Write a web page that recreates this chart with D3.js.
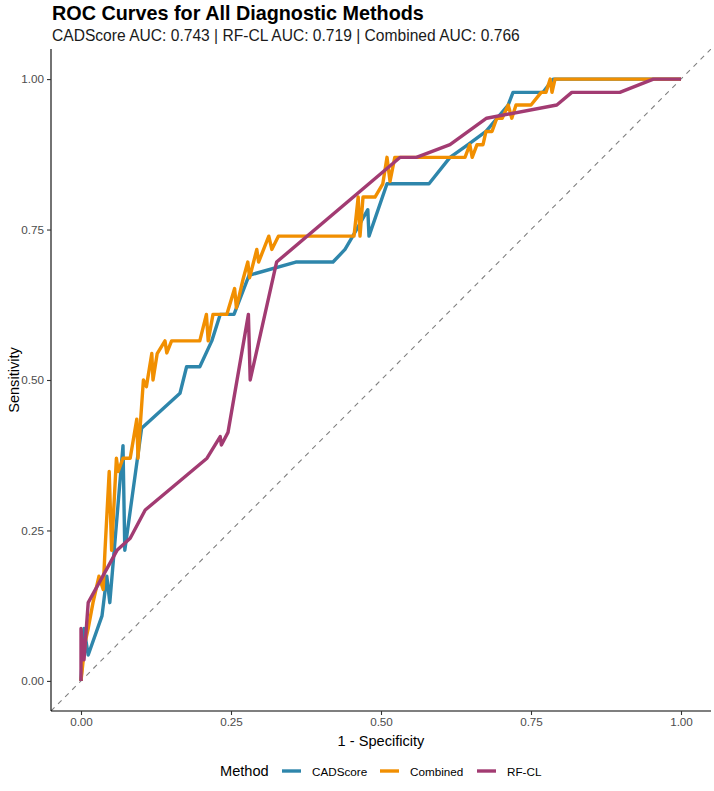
<!DOCTYPE html>
<html><head><meta charset="utf-8">
<script src="https://cdn.jsdelivr.net/npm/d3@7"></script>
<style>body{margin:0;background:#fff;} svg{display:block;font-family:"Liberation Sans",Arial,sans-serif;}</style>
</head><body>
<script>
const methods = ["CADScore", "Combined", "RF-CL"];
const colors = ["#2E86AB", "#F18F01", "#A23B72"];
const aucCAD = 0.743, aucRF = 0.719, aucComb = 0.766;
const ticks = [0, 0.25, 0.5, 0.75, 1];

const cadFPR = [0,0.005,0.012,0.035,0.043,0.048,0.070,0.073,0.101,0.165,0.176,0.198,0.218,0.232,0.255,0.280,0.358,0.420,0.440,0.453,0.478,0.480,0.510,0.580,0.615,0.645,0.675,0.712,0.720,0.770,0.787,1];
const cadTPR = [0,0.087,0.043,0.108,0.174,0.130,0.391,0.217,0.420,0.478,0.522,0.522,0.565,0.609,0.609,0.674,0.696,0.696,0.717,0.739,0.783,0.739,0.826,0.826,0.870,0.891,0.913,0.957,0.978,0.978,1,1];

const combFPR = [0,0.007,0.012,0.020,0.030,0.037,0.040,0.047,0.051,0.059,0.062,0.070,0.082,0.093,0.095,0.104,0.109,0.118,0.120,0.127,0.140,0.143,0.151,0.198,0.209,0.212,0.220,0.243,0.256,0.259,0.270,0.278,0.281,0.293,0.296,0.313,0.318,0.329,0.455,0.462,0.465,0.470,0.490,0.503,0.510,0.515,0.523,0.640,0.648,0.652,0.660,0.670,0.675,0.685,0.693,0.702,0.712,0.718,0.725,0.750,0.767,0.775,0.782,0.785,0.790,1];
const combTPR = [0,0.065,0.087,0.130,0.174,0.152,0.217,0.348,0.217,0.370,0.348,0.370,0.370,0.435,0.370,0.500,0.489,0.544,0.500,0.544,0.565,0.545,0.565,0.565,0.609,0.565,0.609,0.609,0.652,0.620,0.667,0.696,0.670,0.717,0.696,0.739,0.717,0.739,0.739,0.804,0.739,0.804,0.804,0.826,0.870,0.830,0.870,0.870,0.891,0.870,0.891,0.891,0.913,0.913,0.935,0.935,0.957,0.935,0.957,0.957,0.978,0.978,1,0.978,1,1];

const rfFPR = [0,0,0.005,0.012,0.060,0.082,0.107,0.210,0.232,0.234,0.245,0.279,0.282,0.326,0.532,0.559,0.615,0.676,0.793,0.818,0.898,0.954,1];
const rfTPR = [0,0.087,0.035,0.130,0.217,0.237,0.284,0.370,0.406,0.392,0.413,0.609,0.500,0.696,0.870,0.870,0.891,0.935,0.957,0.978,0.978,1,1];

const series = [
  {name:"CADScore", fpr:cadFPR, tpr:cadTPR},
  {name:"Combined", fpr:combFPR, tpr:combTPR},
  {name:"RF-CL", fpr:rfFPR, tpr:rfTPR}
];

const W = 714, H = 791;
const svg = d3.select("body").append("svg").attr("width", W).attr("height", H);
const x = d3.scaleLinear().domain([-0.05, 1.05]).range([51, 711]);
const y = d3.scaleLinear().domain([-0.05, 1.05]).range([711, 49]);
const color = d3.scaleOrdinal().domain(methods).range(colors);

// title
svg.append("text").attr("x", 52).attr("y", 20).attr("font-size", 19.8).attr("font-weight", "bold").attr("fill", "#000")
  .text("ROC Curves for All Diagnostic Methods");
svg.append("text").attr("x", 52).attr("y", 41).attr("font-size", 15.6).attr("fill", "#1a1a1a")
  .text(`CADScore AUC: ${aucCAD.toFixed(3)} | RF-CL AUC: ${aucRF.toFixed(3)} | Combined AUC: ${aucComb.toFixed(3)}`);

// clip
svg.append("clipPath").attr("id", "clip").append("rect").attr("x", 51).attr("y", 49).attr("width", 660).attr("height", 662);

const g = svg.append("g").attr("clip-path", "url(#clip)");
// diagonal reference
g.append("line").attr("x1", x(-0.05)).attr("y1", y(-0.05)).attr("x2", x(1.05)).attr("y2", y(1.05))
  .attr("stroke", "#808080").attr("stroke-width", 1.1).attr("stroke-dasharray", "5,5");

const line = d3.line().x(d => x(d[0])).y(d => y(d[1]));
series.forEach(s => {
  const pts = s.fpr.map((v, i) => [v, s.tpr[i]]);
  g.append("path").datum(pts).attr("d", line).attr("fill", "none")
    .attr("stroke", color(s.name)).attr("stroke-width", 3.4).attr("stroke-linejoin", "round").attr("stroke-linecap", "butt");
});

// axes
const fmt = d3.format(".2f");
const xAxis = svg.append("g").attr("transform", "translate(0,711)")
  .call(d3.axisBottom(x).tickValues(ticks).tickFormat(fmt).tickSizeOuter(0).tickSize(4).tickPadding(3));
const yAxis = svg.append("g").attr("transform", "translate(51,0)")
  .call(d3.axisLeft(y).tickValues(ticks).tickFormat(fmt).tickSizeOuter(0).tickSize(4).tickPadding(3));
[xAxis, yAxis].forEach(a => {
  a.select(".domain").attr("stroke", "#000").attr("stroke-width", 1.1);
  a.selectAll(".tick line").attr("stroke", "#333").attr("stroke-width", 1.1);
  a.selectAll(".tick text").attr("fill", "#4D4D4D").attr("font-size", 11.7).attr("font-family", "Liberation Sans, Arial, sans-serif");
});
xAxis.select(".domain").attr("d", `M${x(-0.05)},0H${x(1.05)}`);
yAxis.select(".domain").attr("d", `M0,${y(-0.05)}V${y(1.05)}`);

// axis titles
svg.append("text").attr("x", 381).attr("y", 746).attr("text-anchor", "middle").attr("font-size", 14.6).attr("fill", "#000").text("1 - Specificity");
svg.append("text").attr("transform", "translate(19,380) rotate(-90)").attr("text-anchor", "middle").attr("font-size", 14.6).attr("fill", "#000").text("Sensitivity");

// legend
const leg = svg.append("g");
const ly = 771;
leg.append("text").attr("x", 220).attr("y", ly + 5).attr("font-size", 14.6).attr("fill", "#000").text("Method");
const lx = [282, 380, 477];
methods.forEach((m, i) => {
  leg.append("line").attr("x1", lx[i]).attr("x2", lx[i] + 19).attr("y1", ly).attr("y2", ly)
    .attr("stroke", color(m)).attr("stroke-width", 3.4);
  leg.append("text").attr("x", lx[i] + 30).attr("y", ly + 4.5).attr("font-size", 11.7).attr("fill", "#000").text(m);
});
</script>
</body></html>
